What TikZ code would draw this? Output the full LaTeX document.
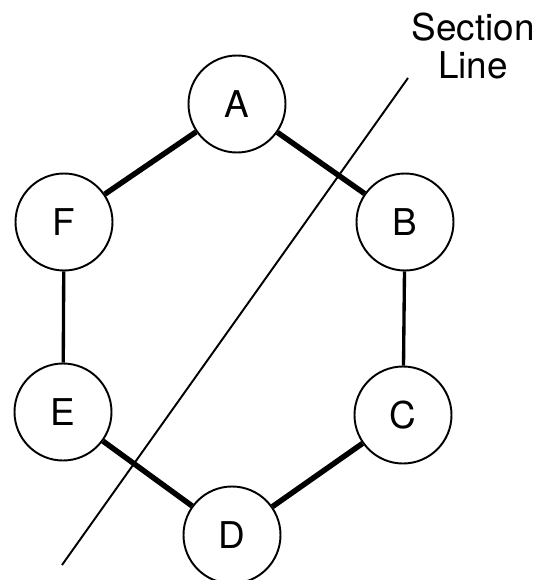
\documentclass[tikz,border=0pt]{standalone}
\usepackage{fontspec}
\setmainfont{TeX Gyre Heros}
\usepackage{tikz}
\usetikzlibrary{positioning}
\usepackage{xcolor}

\begin{document}
\begin{tikzpicture}[
            vertex/.style={draw=black, circle, line width=1.1pt, minimum size=1.94cm, inner sep=0pt, fill=white, font=\fontsize{21}{24}\selectfont},
            heavy/.style={line width=3.1pt},
            light/.style={line width=1.9pt}
        ]
        \useasboundingbox (0,0) rectangle (10.86,-11.6);

        % The Section Line
        \coordinate (s1) at (8.16,-1.56);
        \coordinate (s2) at (1.24,-11.30);
        \draw[line width=1.1pt] (s1) -- (s2);
        \node[align=center, font=\fontsize{21}{21.6}\selectfont] (lbl) at (9.46,-0.92) {Section\\Line};

        % The Vertices
        \node[vertex] (A) at (4.74,-2.08) {A};
        \node[vertex] (F) at (1.28,-4.44) {F};
        \node[vertex] (B) at (8.10,-4.44) {B};
        \node[vertex] (E) at (1.26,-8.24) {E};
        \node[vertex] (C) at (8.06,-8.30) {C};
        \node[vertex] (D) at (4.64,-10.70) {D};

        % Edges
        \draw[heavy] (A) -- (F);
        \draw[heavy] (A) -- (B);
        \draw[heavy] (E) -- (D);
        \draw[heavy] (D) -- (C);
        \draw[light] (F) -- (E);
        \draw[light] (B) -- (C);

        \end{tikzpicture}
\end{document}
